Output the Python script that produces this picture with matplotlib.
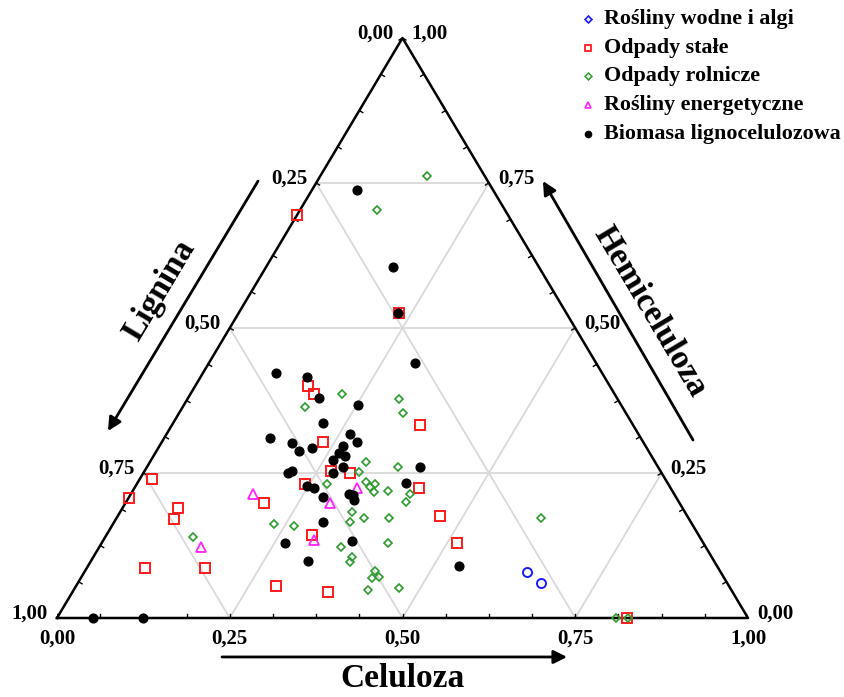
import numpy as np
import matplotlib.pyplot as plt
from matplotlib.lines import Line2D

plt.rcParams['font.family'] = ['Liberation Serif', 'DejaVu Serif']
plt.rcParams['font.weight'] = 'bold'

# compositions: celuloza (c), hemiceluloza (h); lignina = 1 - c - h
wodne_c = [0.640, 0.670]
wodne_h = [0.079, 0.060]

stale_c = [0.000, 0.232, 0.163, 0.179, 0.233, 0.359, 0.270, 0.299, 0.243, 0.412,
           0.466, 0.297, 0.201, 0.290, 0.370, 0.514, 0.017, 0.000, 0.080, 0.084,
           0.084, 0.171, 0.825]
stale_h = [0.695, 0.526, 0.400, 0.386, 0.303, 0.333, 0.253, 0.250, 0.231, 0.224,
           0.176, 0.143, 0.198, 0.055, 0.045, 0.129, 0.240, 0.207, 0.190, 0.171,
           0.086, 0.086, 0.000]

rolnicze_c = [0.154, 0.111, 0.219, 0.177, 0.306, 0.324, 0.312, 0.363, 0.311, 0.275,
              0.330, 0.340, 0.344, 0.350, 0.369, 0.404, 0.405, 0.336, 0.341, 0.358,
              0.394, 0.233, 0.264, 0.350, 0.375, 0.375, 0.415, 0.419, 0.422, 0.430,
              0.426, 0.469, 0.127, 0.614, 0.809, 0.826]
rolnicze_h = [0.762, 0.703, 0.386, 0.364, 0.378, 0.353, 0.269, 0.260, 0.252, 0.231,
              0.234, 0.226, 0.231, 0.217, 0.219, 0.214, 0.200, 0.183, 0.166, 0.172,
              0.172, 0.162, 0.159, 0.122, 0.105, 0.097, 0.129, 0.081, 0.069, 0.071,
              0.048, 0.052, 0.140, 0.172, 0.000, 0.000]

energ_c = [0.177, 0.322, 0.296, 0.305, 0.147]
energ_h = [0.214, 0.224, 0.198, 0.134, 0.122]

ligno_c = [0.065, 0.184, 0.231, 0.298, 0.106, 0.154, 0.189, 0.252, 0.217, 0.153,
           0.189, 0.206, 0.222, 0.266, 0.282, 0.266, 0.266, 0.278, 0.263, 0.284,
           0.274, 0.209, 0.213, 0.395, 0.388, 0.248, 0.260, 0.281, 0.316, 0.322,
           0.328, 0.302, 0.265, 0.361, 0.314, 0.537, 0.052, 0.124]
ligno_h = [0.738, 0.605, 0.526, 0.440, 0.422, 0.416, 0.379, 0.367, 0.336, 0.310,
           0.302, 0.288, 0.293, 0.317, 0.303, 0.297, 0.284, 0.279, 0.272, 0.260,
           0.250, 0.250, 0.253, 0.260, 0.233, 0.228, 0.224, 0.209, 0.214, 0.212,
           0.203, 0.166, 0.129, 0.133, 0.098, 0.090, 0.000, 0.000]

tick_vals = [0.0, 0.25, 0.5, 0.75, 1.0]
tick_txt = ['0,00', '0,25', '0,50', '0,75', '1,00']


def tern(c, h):
    c = np.asarray(c, float)
    h = np.asarray(h, float)
    return c + h / 2.0, h


W, H = 845, 697
fig = plt.figure(figsize=(W / 100, H / 100), dpi=100)
ax = fig.add_axes([57 / W, (H - 618) / H, 691 / W, 580 / H])
ax.set_xlim(0, 1)
ax.set_ylim(0, 1)
ax.axis('off')

# grid
gcol = '#d9d9d9'
for v in [0.25, 0.5, 0.75]:
    for (c0, h0), (c1, h1) in [((0, v), (1 - v, v)),
                               ((v, 0), (v, 1 - v)),
                               ((1 - v, 0), (0, 1 - v))]:
        x, y = tern([c0, c1], [h0, h1])
        ax.plot(x, y, color=gcol, lw=1.3, zorder=1)

# triangle
x, y = tern([0, 1, 0, 0], [0, 0, 1, 0])
ax.plot(x, y, color='k', lw=1.8, zorder=2, clip_on=False)

# small ticks on edges (pixel-space normals)
sx, sy = 691.0, 580.0
tl = 4.0
for t in np.arange(0, 1.0001, 1 / 16):
    bx, by = tern(t, 0)
    ax.plot([bx, bx], [0, tl / sy], color='k', lw=1, zorder=2)
    lx, ly = tern(0, t)
    n = np.array([580.0, -345.5]) / np.hypot(580, 345.5)
    ax.plot([lx, lx + n[0] * tl / sx], [ly, ly + n[1] * tl / sy], color='k', lw=1, zorder=2)
    rx, ry = tern(1 - t, t)
    n = np.array([-580.0, -345.5]) / np.hypot(580, 345.5)
    ax.plot([rx, rx + n[0] * tl / sx], [ry, ry + n[1] * tl / sy], color='k', lw=1, zorder=2)

# tick labels
fs = 15
for v, s in zip(tick_vals, tick_txt):
    bx, by = tern(v, 0)
    ax.annotate(s, (bx, by), xytext=(0, -14.5), textcoords='offset points',
                ha='center', va='center', fontsize=fs, annotation_clip=False)
    lx, ly = tern(0, 1 - v)
    ax.annotate(s, (lx, ly), xytext=(-6.5, 3), textcoords='offset points',
                ha='right', va='center', fontsize=fs, annotation_clip=False)
    rx, ry = tern(1 - v, v)
    ax.annotate(s, (rx, ry), xytext=(6.5, 3), textcoords='offset points',
                ha='left', va='center', fontsize=fs, annotation_clip=False)

# axis arrows and titles
ap = dict(arrowstyle='-|>', lw=2, color='k', mutation_scale=20, shrinkA=0, shrinkB=0)
ax.annotate('', xy=(0.0738, 0.3224), xytext=(0.2910, 0.7534), arrowprops=ap, annotation_clip=False)
ax.annotate('', xy=(0.7033, 0.7534), xytext=(0.9204, 0.3069), arrowprops=ap, annotation_clip=False)
ax.annotate('', xy=(0.7381, -0.0672), xytext=(0.2388, -0.0672), arrowprops=ap, annotation_clip=False)
ax.text(0.148, 0.5655, 'Lignina', rotation=59.2, fontsize=24, ha='center', va='center',
        rotation_mode='anchor', clip_on=False)
ax.text(0.858, 0.529, 'Hemiceluloza', rotation=-59.2, fontsize=24, ha='center', va='center',
        rotation_mode='anchor', clip_on=False)
ax.text(0.4993, -0.1050, 'Celuloza', fontsize=24, ha='center', va='center', clip_on=False)

# data
red = '#ff1a1a'
green = '#2f9a2f'
mag = '#ff22ff'
blue = '#1a1aff'
x, y = tern(rolnicze_c, rolnicze_h)
ax.plot(x, y, 'D', ms=4.2, mfc='none', mec=green, mew=1.2, zorder=4, clip_on=False)
x, y = tern(stale_c, stale_h)
ax.plot(x, y, 's', ms=6.8, mfc='none', mec=red, mew=1.4, zorder=3, clip_on=False)
x, y = tern(energ_c, energ_h)
ax.plot(x, y, '^', ms=6.5, mfc='none', mec=mag, mew=1.3, zorder=5, clip_on=False)
x, y = tern(wodne_c, wodne_h)
ax.plot(x, y, 'o', ms=6.5, mfc='none', mec=blue, mew=1.4, zorder=5, clip_on=False)
x, y = tern(ligno_c, ligno_h)
ax.plot(x, y, 'o', ms=6.3, color='k', zorder=6, clip_on=False)

# legend
leg_items = [
    ('Rośliny wodne i algi', dict(marker='D', ms=3.5, mfc='none', mec=blue, mew=1.2)),
    ('Odpady stałe', dict(marker='s', ms=5, mfc='none', mec=red, mew=1.3)),
    ('Odpady rolnicze', dict(marker='D', ms=3.5, mfc='none', mec=green, mew=1.1)),
    ('Rośliny energetyczne', dict(marker='^', ms=5, mfc='none', mec=mag, mew=1.2)),
    ('Biomasa lignocelulozowa', dict(marker='o', ms=4.5, mfc='k', mec='k')),
]
for i, (lab, st) in enumerate(leg_items):
    yy = 1 - (19 + 28.7 * i) / H
    fig.add_artist(Line2D([588 / W], [yy], linestyle='none', transform=fig.transFigure, **st))
    fig.text(604 / W, yy, lab, fontsize=15.8, ha='left', va='center')

fig.savefig('out.png', dpi=100)
